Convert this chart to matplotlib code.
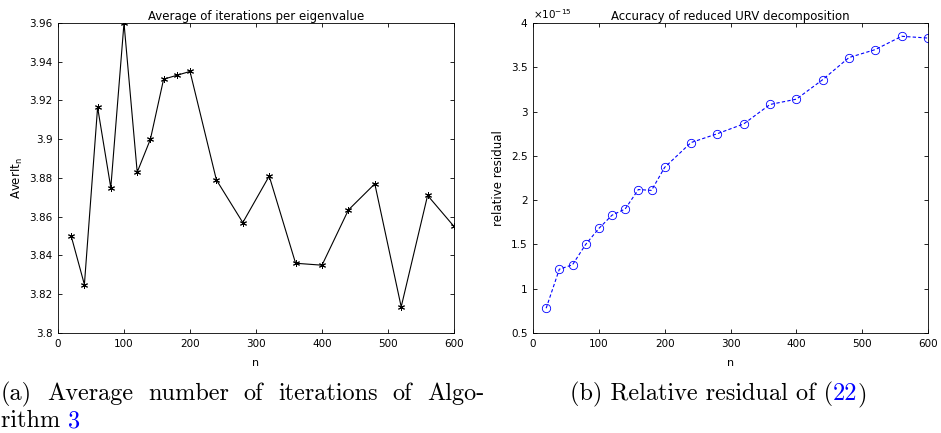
import matplotlib
matplotlib.use("Agg")
import matplotlib.pyplot as plt
from matplotlib.ticker import FuncFormatter, MultipleLocator

# matrix sizes tested
n = [20, 40, 60, 80, 100, 120, 140, 160, 180, 200,
     240, 280, 320, 360, 400, 440, 480, 520, 560, 600]
# average iterations per eigenvalue
aver_it = [3.850, 3.825, 3.9165, 3.875, 3.960, 3.883, 3.900, 3.931, 3.933, 3.935,
           3.879, 3.857, 3.881, 3.836, 3.835, 3.8635, 3.877, 3.8135, 3.871, 3.855]
# relative residual of the reduced URV decomposition (units of 1e-15)
resid = [0.78, 1.22, 1.27, 1.50, 1.68, 1.83, 1.90, 2.12, 2.11, 2.37,
         2.65, 2.75, 2.86, 3.08, 3.14, 3.36, 3.61, 3.70, 3.85, 3.83]
resid = [r * 1e-15 for r in resid]

plt.rcParams['font.family'] = ['DejaVu Sans']
plt.rcParams['font.size'] = 7.5
plt.rcParams['axes.linewidth'] = 0.6
plt.rcParams['xtick.direction'] = 'in'
plt.rcParams['ytick.direction'] = 'in'
plt.rcParams['xtick.top'] = True
plt.rcParams['ytick.right'] = True
plt.rcParams['xtick.major.size'] = 3
plt.rcParams['ytick.major.size'] = 3
plt.rcParams['xtick.major.width'] = 0.6
plt.rcParams['ytick.major.width'] = 0.6

W, H = 941, 433
fig = plt.figure(figsize=(W / 100, H / 100), dpi=100)

def box(l, t, r, b):
    return [l / W, 1 - b / H, (r - l) / W, (b - t) / H]

def short(v, pos):
    return ('%g' % round(v, 4))

# left panel
ax1 = fig.add_axes(box(58, 23, 454, 333))
ax1.plot(n, aver_it, color='black', lw=0.8, marker=(6, 2, 0), ms=5, mew=0.7)
ax1.set_xlim(0, 600)
ax1.set_ylim(3.8, 3.96)
ax1.xaxis.set_major_locator(MultipleLocator(100))
ax1.yaxis.set_major_locator(MultipleLocator(0.02))
ax1.yaxis.set_major_formatter(FuncFormatter(short))
ax1.set_title('Average of iterations per eigenvalue', fontsize=8.5, pad=2)
ax1.set_xlabel('n', fontsize=8, labelpad=7)
ax1.set_ylabel('AverIt$_\\mathregular{n}$', fontsize=8.5, labelpad=3)
ax1.tick_params(pad=4)

# right panel
ax2 = fig.add_axes(box(533, 23, 928, 333))
ax2.plot(n, resid, color='blue', lw=0.8, ls='--', dashes=(3, 2),
         marker='o', ms=6, mfc='none', mew=0.6)
ax2.set_xlim(0, 600)
ax2.set_ylim(0.5e-15, 4e-15)
ax2.xaxis.set_major_locator(MultipleLocator(100))
ax2.yaxis.set_major_locator(MultipleLocator(0.5e-15))
ax2.yaxis.set_major_formatter(FuncFormatter(lambda v, p: short(v / 1e-15, p)))
ax2.text(0, 1.008, '$\\times\\mathregular{10^{-15}}$', transform=ax2.transAxes,
         fontsize=7.5, ha='left', va='bottom')
ax2.set_title('Accuracy of reduced URV decomposition', fontsize=8.5, pad=2)
ax2.set_xlabel('n', fontsize=8, labelpad=7)
ax2.set_ylabel('relative residual', fontsize=8.5, labelpad=4)
ax2.tick_params(pad=4)

# captions in serif, blue cross-references
cap = dict(family='cmr10', fontsize=17.5, va='baseline')
fig.canvas.draw()
r = fig.canvas.get_renderer()

def put(x_px, y_px, s, color='black'):
    t = fig.text(x_px / W, 1 - y_px / H, s, color=color, **cap)
    return t.get_window_extent(r).x1

words = ['(a)', 'Average', 'number', 'of', 'iterations', 'of', 'Algo-']
widths = []
for w in words:
    t = fig.text(0, 0, w, **cap)
    widths.append(t.get_window_extent(r).width)
    t.remove()
gap = (483 - sum(widths)) / (len(words) - 1)
x = 1
for w, wd in zip(words, widths):
    put(x, 400, w)
    x += wd + gap

x = put(1, 427, 'rithm ')
put(x, 427, '3', color='blue')

x = put(570, 400, '(b) Relative residual of (')
x = put(x, 400, '22', color='blue')
put(x, 400, ')')

fig.savefig('out.png', dpi=100)
